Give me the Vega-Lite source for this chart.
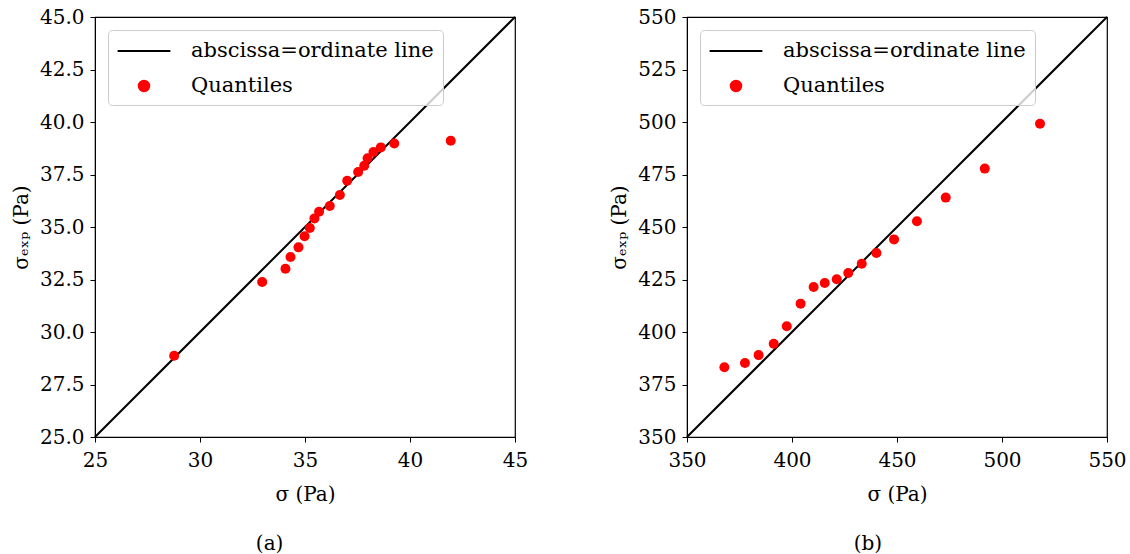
{
  "$schema": "https://vega.github.io/schema/vega-lite/v6.json",
  "background": "white",
  "padding": {"left": 10, "top": 6, "right": 0, "bottom": 0},
  "spacing": 80,
  "config": {
    "font": "DejaVu Serif",
    "view": {"stroke": "black", "strokeWidth": 1.2},
    "axis": {
      "grid": false,
      "domainColor": "black",
      "tickColor": "black",
      "tickSize": 5,
      "labelFontSize": 20,
      "labelColor": "black",
      "labelFont": "DejaVu Serif",
      "labelFlush": false,
      "labelPadding": 6,
      "titleFontSize": 20,
      "titleFont": "DejaVu Serif",
      "titleFontWeight": "normal",
      "titleColor": "black"
    },
    "axisY": {"titlePadding": 8},
    "axisX": {"titlePadding": 14, "labelPadding": 8},
    "legend": {
      "orient": "top-left",
      "offset": 13,
      "padding": 9,
      "fillColor": "rgba(255,255,255,0.8)",
      "strokeColor": "#cccccc",
      "cornerRadius": 4,
      "labelFontSize": 21,
      "labelFont": "DejaVu Serif",
      "labelColor": "black",
      "labelLimit": 500,
      "symbolType": "M-2.4,0H2.4",
      "symbolSize": 484,
      "symbolOffset": 15,
      "symbolStrokeWidth": 2,
      "labelOffset": 35,
      "rowPadding": 13,
      "title": null
    },
    "title": {"fontSize": 20, "font": "DejaVu Serif", "fontWeight": "normal", "color": "black"}
  },
  "datasets": {
    "diagA": [
      {"x": 25, "y": 25, "series": "abscissa=ordinate line"},
      {"x": 45, "y": 45, "series": "abscissa=ordinate line"}
    ],
    "ptsA": [
      {"x": 28.77, "y": 28.87, "series": "Quantiles"},
      {"x": 32.96, "y": 32.38, "series": "Quantiles"},
      {"x": 34.07, "y": 33.01, "series": "Quantiles"},
      {"x": 34.31, "y": 33.57, "series": "Quantiles"},
      {"x": 34.69, "y": 34.03, "series": "Quantiles"},
      {"x": 34.98, "y": 34.56, "series": "Quantiles"},
      {"x": 35.23, "y": 34.95, "series": "Quantiles"},
      {"x": 35.45, "y": 35.41, "series": "Quantiles"},
      {"x": 35.67, "y": 35.73, "series": "Quantiles"},
      {"x": 36.18, "y": 36.0, "series": "Quantiles"},
      {"x": 36.66, "y": 36.52, "series": "Quantiles"},
      {"x": 37.01, "y": 37.2, "series": "Quantiles"},
      {"x": 37.53, "y": 37.62, "series": "Quantiles"},
      {"x": 37.82, "y": 37.92, "series": "Quantiles"},
      {"x": 37.98, "y": 38.27, "series": "Quantiles"},
      {"x": 38.26, "y": 38.57, "series": "Quantiles"},
      {"x": 38.61, "y": 38.79, "series": "Quantiles"},
      {"x": 39.25, "y": 38.98, "series": "Quantiles"},
      {"x": 41.94, "y": 39.11, "series": "Quantiles"}
    ],
    "diagB": [
      {"x": 350, "y": 350, "series": "abscissa=ordinate line"},
      {"x": 550, "y": 550, "series": "abscissa=ordinate line"}
    ],
    "ptsB": [
      {"x": 367.8, "y": 383.2, "series": "Quantiles"},
      {"x": 377.6, "y": 385.2, "series": "Quantiles"},
      {"x": 384.1, "y": 389.0, "series": "Quantiles"},
      {"x": 391.3, "y": 394.4, "series": "Quantiles"},
      {"x": 397.5, "y": 402.7, "series": "Quantiles"},
      {"x": 404.1, "y": 413.5, "series": "Quantiles"},
      {"x": 410.3, "y": 421.4, "series": "Quantiles"},
      {"x": 415.6, "y": 423.3, "series": "Quantiles"},
      {"x": 421.3, "y": 425.1, "series": "Quantiles"},
      {"x": 426.8, "y": 428.1, "series": "Quantiles"},
      {"x": 433.2, "y": 432.5, "series": "Quantiles"},
      {"x": 440.2, "y": 437.6, "series": "Quantiles"},
      {"x": 448.6, "y": 444.1, "series": "Quantiles"},
      {"x": 459.5, "y": 452.7, "series": "Quantiles"},
      {"x": 473.2, "y": 464.0, "series": "Quantiles"},
      {"x": 491.8, "y": 477.8, "series": "Quantiles"},
      {"x": 518.1, "y": 499.2, "series": "Quantiles"}
    ]
  },
  "resolve": {"scale": {"color": "independent"}, "legend": {"color": "independent"}},
  "hconcat": [
    {
      "width": 420,
      "height": 420,
      "title": {"text": "(a)", "orient": "bottom", "frame": "bounds", "anchor": "middle", "offset": 30},
      "encoding": {
        "x": {"field": "x", "type": "quantitative", "title": "σ (Pa)",
              "scale": {"domain": [25, 45], "nice": false, "zero": false},
              "axis": {"values": [25, 30, 35, 40, 45], "format": "d"}},
        "y": {"field": "y", "type": "quantitative", "title": "σₑₓₚ (Pa)",
              "scale": {"domain": [25, 45], "nice": false, "zero": false},
              "axis": {"values": [25, 27.5, 30, 32.5, 35, 37.5, 40, 42.5, 45], "format": ".1f"}},
        "color": {"field": "series", "type": "nominal",
                  "scale": {"domain": ["abscissa=ordinate line", "Quantiles"], "range": ["black", "red"]},
                  "legend": {
                    "encode": {"symbols": {"update": {
                      "shape": {"signal": "datum.value === 'Quantiles' ? 'circle' : 'M-2.4,0H2.4'"},
                      "size": {"signal": "datum.value === 'Quantiles' ? 110 : 484"},
                      "fill": {"signal": "datum.value === 'Quantiles' ? 'red' : 'transparent'"},
                      "stroke": {"signal": "datum.value === 'Quantiles' ? 'transparent' : 'black'"},
                      "strokeWidth": {"value": 2},
                      "opacity": {"value": 1}
                    }}}
                  }}
      },
      "layer": [
        {"data": {"name": "diagA"}, "mark": {"type": "line", "strokeWidth": 2}},
        {"data": {"name": "ptsA"}, "mark": {"type": "point", "filled": true, "size": 100, "opacity": 1}}
      ]
    },
    {
      "width": 420,
      "height": 420,
      "title": {"text": "(b)", "orient": "bottom", "frame": "bounds", "anchor": "middle", "offset": 30},
      "encoding": {
        "x": {"field": "x", "type": "quantitative", "title": "σ (Pa)",
              "scale": {"domain": [350, 550], "nice": false, "zero": false},
              "axis": {"values": [350, 400, 450, 500, 550], "format": "d"}},
        "y": {"field": "y", "type": "quantitative", "title": "σₑₓₚ (Pa)",
              "scale": {"domain": [350, 550], "nice": false, "zero": false},
              "axis": {"values": [350, 375, 400, 425, 450, 475, 500, 525, 550], "format": "d"}},
        "color": {"field": "series", "type": "nominal",
                  "scale": {"domain": ["abscissa=ordinate line", "Quantiles"], "range": ["black", "red"]},
                  "legend": {
                    "encode": {"symbols": {"update": {
                      "shape": {"signal": "datum.value === 'Quantiles' ? 'circle' : 'M-2.4,0H2.4'"},
                      "size": {"signal": "datum.value === 'Quantiles' ? 110 : 484"},
                      "fill": {"signal": "datum.value === 'Quantiles' ? 'red' : 'transparent'"},
                      "stroke": {"signal": "datum.value === 'Quantiles' ? 'transparent' : 'black'"},
                      "strokeWidth": {"value": 2},
                      "opacity": {"value": 1}
                    }}}
                  }}
      },
      "layer": [
        {"data": {"name": "diagB"}, "mark": {"type": "line", "strokeWidth": 2}},
        {"data": {"name": "ptsB"}, "mark": {"type": "point", "filled": true, "size": 100, "opacity": 1}}
      ]
    }
  ]
}
